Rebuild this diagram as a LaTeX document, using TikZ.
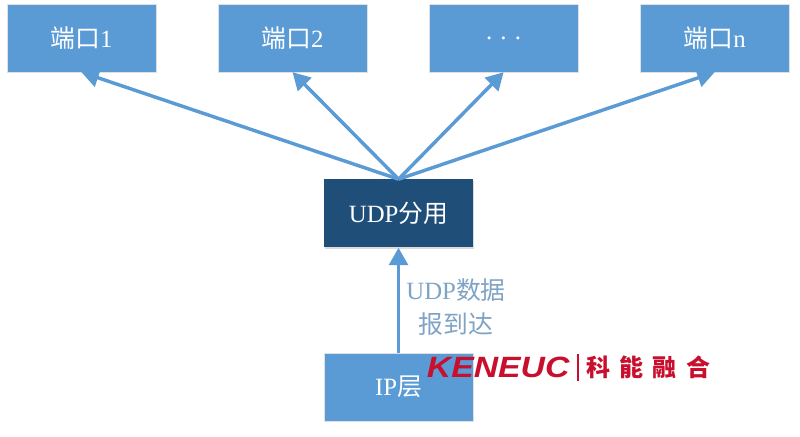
\documentclass[tikz,border=0pt]{standalone}
\usepackage{fontspec}
\usepackage{xcolor}
\setmainfont{Liberation Serif}
\setsansfont{Liberation Sans}
\newfontfamily\cjk{Noto Sans CJK SC}
\usetikzlibrary{
	arrows.meta,
	positioning,
	shadows
}
\definecolor{portblue}{HTML}{5B9BD5}
\definecolor{muxblue}{HTML}{1F4E79}
\definecolor{labelblue}{HTML}{7FA3C4}
\definecolor{logored}{HTML}{C8102E}
\tikzset{
	node distance=46.5pt,
	box/.style={
		minimum width=111.5pt,
		minimum height=51pt,
		inner sep=0pt,
		text=white,
		font=\fontsize{18.6}{22}\selectfont,
		drop shadow={shadow xshift=0.6pt,shadow yshift=-0.8pt,fill=black!35,opacity=0.4}
	},
	port/.style={
		box,
		fill=portblue,
		draw=black!12,
		line width=0.3pt
	},
	mux/.style={
		box,
		fill=muxblue
	},
	link/.style={
		draw=portblue,
		line width=2.6pt,
		-{Triangle[length=13pt,width=14pt]}
	},
	logo/.style={
		text=logored,
		inner sep=0pt
	}
}
\begin{document}
\begin{tikzpicture}
	\useasboundingbox (0,0) rectangle (600pt,-327pt);
	\node [port] at (61.1pt,-28.5pt) (p1)  {\cjk 端口\rmfamily 1};
	\node [port,right=of p1]         (p2)  {\cjk 端口\rmfamily 2};
	\node [port,right=of p2]         (pd)  {. . .};
	\node [port,right=of pd]         (pn)  {\cjk 端口\rmfamily n};

	\node [mux] at (298.9pt,-160.1pt) (udp) {UDP\cjk 分用};
	\node [port,below=78.75pt of udp] (ip)  {IP\cjk 层};

	\node [text=labelblue,align=center,font=\fontsize{18.6}{25.5}\selectfont]
		at (342pt,-230pt) (lbl) {UDP{\cjk 数据}\\{\cjk 报到达}};

	% arrows
	\draw [link] (udp.north) -- (p1.south);
	\draw [link] (udp.north) -- (p2.south);
	\draw [link] (udp.north) -- (pd.south);
	\draw [link] (udp.north) -- (pn.south);
	\draw [link] (ip.north)  -- (udp.south);

	% logo
	\node [logo,anchor=west,xscale=1.15,font=\sffamily\bfseries\itshape\fontsize{22}{24}\selectfont]
		at (320pt,-275.5pt) (kn) {KENEUC};
	\node [fill=logored,minimum width=1.2pt,minimum height=20pt,inner sep=0pt,
		right=5.5pt of kn.east] (bar) {};
	\node [logo,anchor=west,font=\cjk\bfseries\fontsize{18}{20}\selectfont,right=5pt of bar]
		(cn) {科\hspace{7pt}能\hspace{7pt}融\hspace{7pt}合};
\end{tikzpicture}
\end{document}
